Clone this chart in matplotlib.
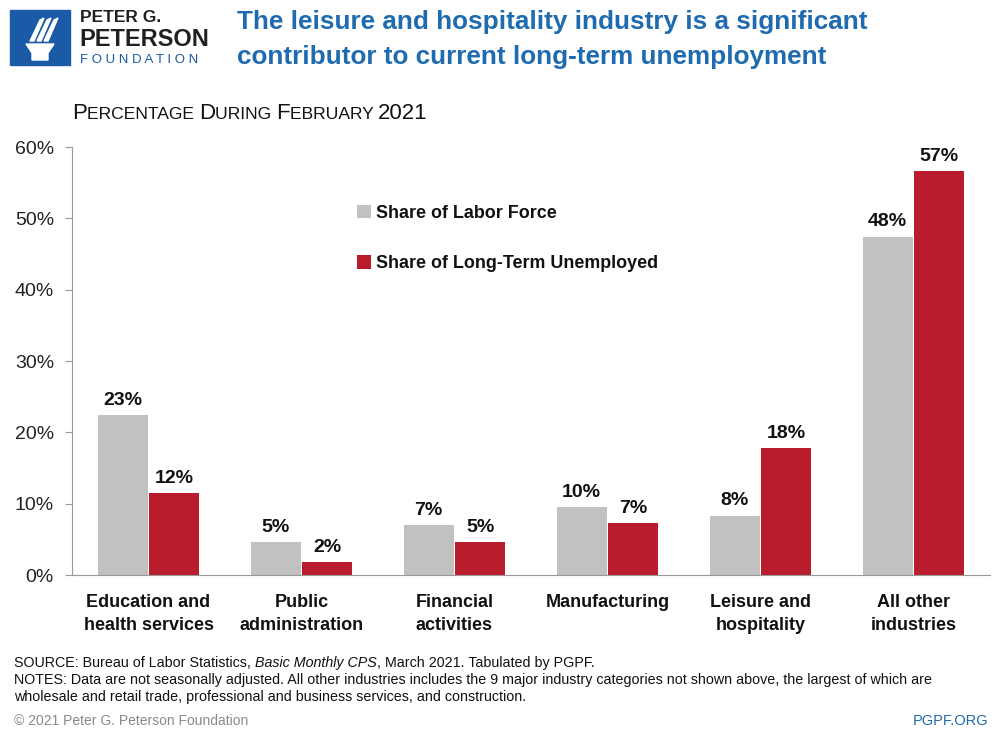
import matplotlib.pyplot as plt
import matplotlib.patches as mpatches
import numpy as np

# Data
categories = ['Education and\nhealth services', 'Public\nadministration', 'Financial\nactivities',
              'Manufacturing', 'Leisure and\nhospitality', 'All other\nindustries']
labor_force = [22.4, 4.6, 7.0, 9.5, 8.3, 47.4]
long_term_unemployed = [11.5, 1.8, 4.6, 7.3, 17.8, 56.6]
labor_labels = ['23%', '5%', '7%', '10%', '8%', '48%']
ltu_labels = ['12%', '2%', '5%', '7%', '18%', '57%']
yticks = [0, 10, 20, 30, 40, 50, 60]

GRAY = '#c1c1c1'
RED = '#b81c2d'
BLUE = '#1f6bb0'
SANS = ['Liberation Sans', 'DejaVu Sans']

plt.rcParams['font.family'] = SANS

fig = plt.figure(figsize=(9.94, 7.33), dpi=100, facecolor='white')
W, H = 994, 733

def fx(px):
    return px / W

def fy(py):
    return 1 - py / H

renderer = fig.canvas.get_renderer()

def run_text(x0, y0, pieces, **kw):
    # place text pieces one after another on one baseline
    cur = x0
    for txt, props in pieces:
        t = fig.text(cur, y0, txt, va='baseline', **kw, **props)
        cur += t.get_window_extent(renderer=renderer).width / W

ax = fig.add_axes([fx(72), fy(575), (990 - 72) / W, (575 - 147) / H])

x = np.arange(len(categories))
bw = 0.327
ax.bar(x - bw / 2 - 0.006, labor_force, width=bw, color=GRAY, label='Share of Labor Force')
ax.bar(x + bw / 2 + 0.006, long_term_unemployed, width=bw, color=RED, label='Share of Long-Term Unemployed')

for i in range(len(categories)):
    ax.text(x[i] - bw / 2 - 0.006, labor_force[i] + 0.9, labor_labels[i], ha='center', va='bottom',
            fontsize=14, fontweight='bold', color='#111111')
    ax.text(x[i] + bw / 2 + 0.006, long_term_unemployed[i] + 0.9, ltu_labels[i], ha='center', va='bottom',
            fontsize=14, fontweight='bold', color='#111111')

ax.set_xlim(-0.5, 5.5)
ax.set_ylim(0, 60)
ax.set_yticks(yticks)
ax.set_yticklabels([f'{v}%' for v in yticks], fontsize=14, color='#222222')
ax.set_xticks(x)
ax.set_xticklabels(categories, fontsize=13, fontweight='bold', color='#111111', linespacing=1.45)
ax.tick_params(axis='x', length=0, pad=14)
ax.tick_params(axis='y', length=5, color='#999999', pad=8)
for s in ['top', 'right']:
    ax.spines[s].set_visible(False)
ax.spines['left'].set_color('#999999')
ax.spines['bottom'].set_color('#999999')

leg = ax.legend(loc='upper left', bbox_to_anchor=((341 - 72) / 918, (575 - 189) / 428), frameon=False,
                handlelength=0.75, handleheight=0.75, handletextpad=0.3, labelspacing=1.85,
                prop={'size': 12.9, 'weight': 'bold'})
for t in leg.get_texts():
    t.set_color('#111111')

# Logo
fig.patches.append(mpatches.Rectangle((fx(10), fy(65)), 60 / W, 55 / H, transform=fig.transFigure,
                                      color='#1a5aa6', zorder=1))
torch = mpatches.Polygon([(fx(26), fy(44)), (fx(54), fy(44)), (fx(48), fy(53)), (fx(48), fy(60)),
                          (fx(32), fy(60)), (fx(32), fy(53))], closed=True, transform=fig.transFigure,
                         color='white', zorder=2)
fig.patches.append(torch)
for dx in [0, 7, 14]:
    fig.patches.append(mpatches.Polygon([(fx(30 + dx), fy(41)), (fx(34 + dx), fy(41)),
                                         (fx(44 + dx), fy(18)), (fx(40 + dx), fy(20))],
                                        closed=True, transform=fig.transFigure, color='white', zorder=2))
fig.text(fx(80), fy(18), 'PETER G.', fontsize=12.5, fontweight='bold', color='#231f20', va='center')
fig.text(fx(79), fy(40), 'PETERSON', fontsize=17, fontweight='bold', color='#231f20', va='center')
fig.text(fx(80), fy(60), 'F O U N D A T I O N', fontsize=9.5, color='#1a5aa6', va='center')

# Title
fig.text(fx(237), fy(22), 'The leisure and hospitality industry is a significant', fontsize=18.8,
         fontweight='bold', color=BLUE, va='center')
fig.text(fx(237), fy(57), 'contributor to current long-term unemployment', fontsize=18.8,
         fontweight='bold', color=BLUE, va='center')

# Small-caps subtitle
big = {'fontsize': 16}
small = {'fontsize': 12.6}
run_text(fx(72), fy(119), [('P', big), ('ERCENTAGE ', small), ('D', big), ('URING ', small),
                           ('F', big), ('EBRUARY ', small), ('2021', big)], color='#111111')

# Footer
fs = 10.3
run_text(fx(14), fy(667), [('SOURCE: Bureau of Labor Statistics, ', {'fontsize': fs}),
                           ('Basic Monthly CPS', {'fontsize': fs, 'style': 'italic'}),
                           (', March 2021. Tabulated by PGPF.', {'fontsize': fs})], color='#111111')
fig.text(fx(14), fy(684), 'NOTES: Data are not seasonally adjusted. All other industries includes the 9 major industry '
         'categories not shown above, the largest of which are',
         fontsize=fs, color='#111111', va='baseline')
fig.text(fx(14), fy(701), 'wholesale and retail trade, professional and business services, and construction.',
         fontsize=fs, color='#111111', va='baseline')
fig.text(fx(14), fy(721), '© 2021 Peter G. Peterson Foundation', fontsize=10,
         color='#8a8a8a', va='center')
fig.text(fx(988), fy(721), 'PGPF.ORG', fontsize=10.5, color=BLUE, va='center', ha='right')

plt.savefig('out.png', dpi=100, facecolor='white')
